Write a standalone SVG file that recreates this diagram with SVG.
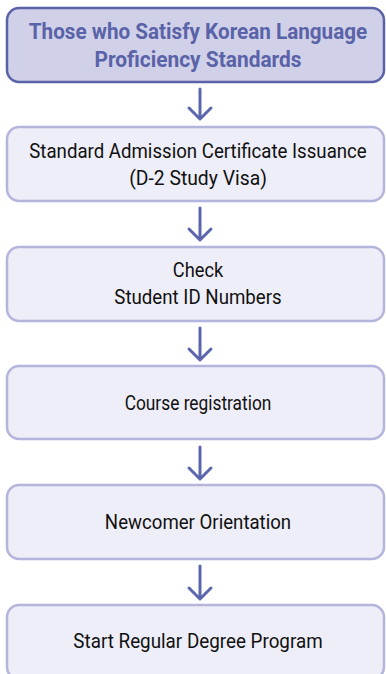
<svg xmlns="http://www.w3.org/2000/svg" width="386" height="674" viewBox="0 0 386 674">
<style>
.box{fill:#eeeef8;stroke:#b3b5dc;stroke-width:2.5}
.head{fill:#d0d1e8;stroke:#5a62a8;stroke-width:2.5}
.t{font-family:Roboto,"Liberation Sans",sans-serif;font-size:20px;fill:#111;text-anchor:middle}
.ht{font-family:Roboto,"Liberation Sans",sans-serif;font-size:22px;font-weight:bold;fill:#5a62a8;text-anchor:middle}
.arr{fill:none;stroke:#5c66ad;stroke-width:3;stroke-linecap:round;stroke-linejoin:round}
</style>
<rect width="386" height="674" fill="#ffffff"/>
<g id="n1">
<rect class="head" x="7" y="8" width="377" height="74" rx="12"/>
<g transform="translate(198 0) scale(0.9 1)">
<text class="ht" x="0" y="39" textLength="376" lengthAdjust="spacingAndGlyphs">Those who Satisfy Korean Language</text>
<text class="ht" x="0" y="67" textLength="230" lengthAdjust="spacingAndGlyphs">Proficiency Standards</text>
</g>
</g>
<g id="n2">
<rect class="box" x="7" y="127" width="377" height="74" rx="12"/>
<g transform="translate(198 0) scale(0.9 1)">
<text class="t" x="0" y="158" textLength="375" lengthAdjust="spacingAndGlyphs">Standard Admission Certificate Issuance</text>
<text class="t" x="0" y="185" textLength="153" lengthAdjust="spacingAndGlyphs">(D-2 Study Visa)</text>
</g>
</g>
<g id="n3">
<rect class="box" x="7" y="247" width="377" height="74" rx="12"/>
<g transform="translate(198 0) scale(0.9 1)">
<text class="t" x="0" y="277" textLength="56" lengthAdjust="spacingAndGlyphs">Check</text>
<text class="t" x="0" y="304" textLength="186" lengthAdjust="spacingAndGlyphs">Student ID Numbers</text>
</g>
</g>
<g id="n4">
<rect class="box" x="7" y="366" width="377" height="73" rx="12"/>
<g transform="translate(198 0) scale(0.9 1)">
<text class="t" x="0" y="410" textLength="163" lengthAdjust="spacingAndGlyphs">Course registration</text>
</g>
</g>
<g id="n5">
<rect class="box" x="7" y="485" width="377" height="74" rx="12"/>
<g transform="translate(198 0) scale(0.9 1)">
<text class="t" x="0" y="529" textLength="207" lengthAdjust="spacingAndGlyphs">Newcomer Orientation</text>
</g>
</g>
<g id="n6">
<rect class="box" x="7" y="605" width="377" height="74" rx="12"/>
<g transform="translate(198 0) scale(0.9 1)">
<text class="t" x="0" y="648" textLength="277" lengthAdjust="spacingAndGlyphs">Start Regular Degree Program</text>
</g>
</g>
<g id="connectors">
<path class="arr" d="M200 89V118M189 108L200 119L211 108"/>
<path class="arr" d="M200 208V239M189 229L200 240L211 229"/>
<path class="arr" d="M200 328V359M189 349L200 360L211 349"/>
<path class="arr" d="M200 447V478M189 468L200 479L211 468"/>
<path class="arr" d="M200 566V598M189 588L200 599L211 588"/>
</g>
</svg>
